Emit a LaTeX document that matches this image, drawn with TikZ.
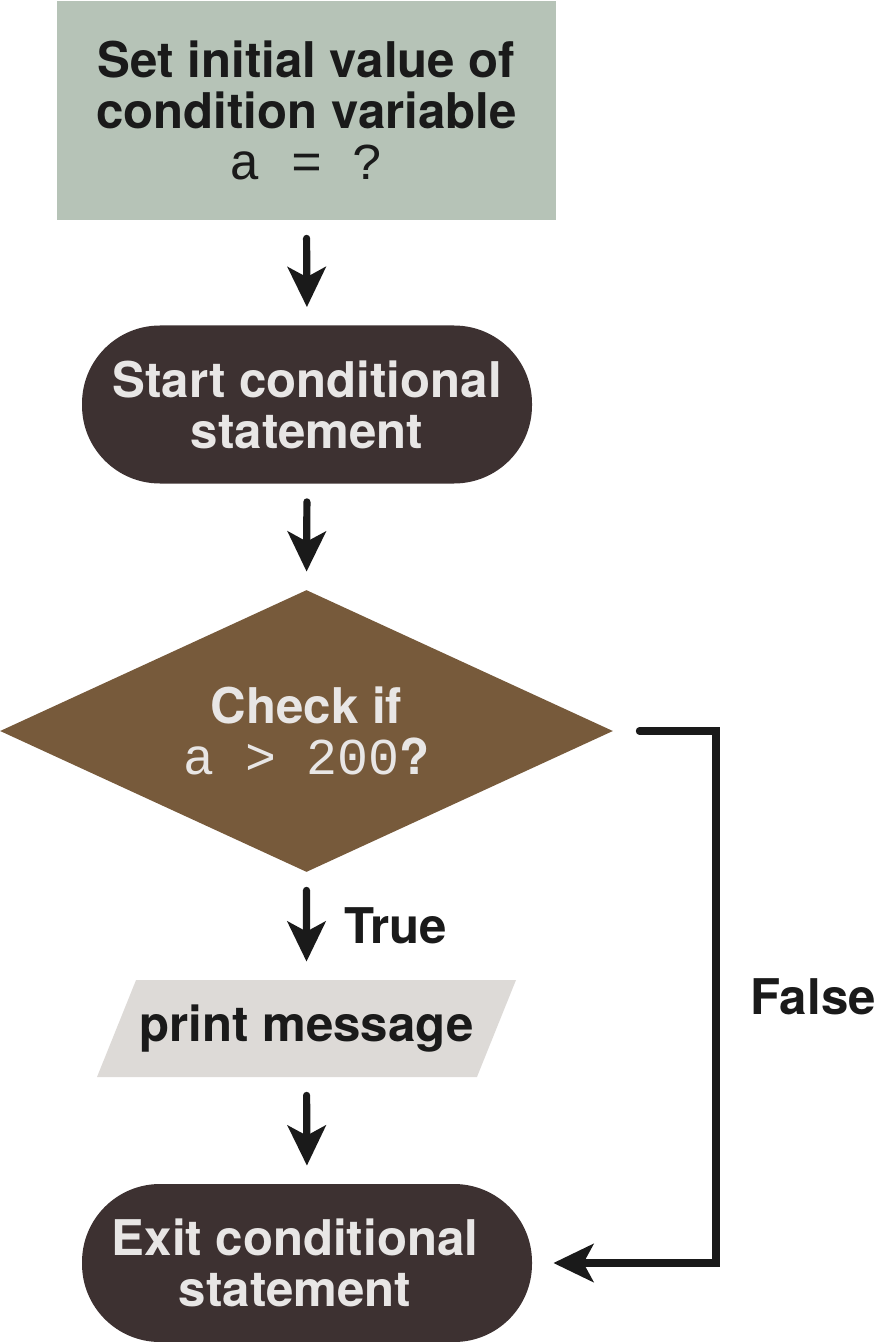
\documentclass[tikz,border=0pt]{standalone}
\usepackage{fontspec}
\setmainfont{TeX Gyre Heros}
\newfontfamily\codefont{Liberation Mono}
\usetikzlibrary{arrows.meta,shapes.geometric}

\definecolor{initgreen}{HTML}{B6C3B7}
\definecolor{termbrown}{HTML}{3D3131}
\definecolor{decbrown}{HTML}{775A3B}
\definecolor{iogrey}{HTML}{DDDAD7}
\definecolor{lighttext}{HTML}{E8E6E5}
\definecolor{inkblack}{HTML}{1A1A1A}

\newcommand\codetxt[1]{{\codefont\mdseries\fontsize{25.8}{25.5}\selectfont #1}}

\begin{document}
\begin{tikzpicture}[x=0.5pt,y=-0.5pt,color=inkblack,
    font=\fontsize{24.6}{25.5}\selectfont\bfseries,
    initbox/.style={rectangle,fill=initgreen,text=inkblack,minimum width=249.5pt,minimum height=109.5pt,align=center,inner sep=0pt},
    termbox/.style={rectangle,rounded corners=39pt,fill=termbrown,text=lighttext,minimum width=225pt,minimum height=79pt,align=center,inner sep=0pt},
    decbox/.style={diamond,shape aspect=2.17,fill=decbrown,text=lighttext,minimum width=306.5pt,minimum height=141pt,align=center,inner sep=0pt},
    iobox/.style={trapezium,trapezium left angle=50.5,trapezium right angle=129.5,trapezium stretches body,fill=iogrey,text=inkblack,minimum width=209.5pt,minimum height=48.5pt,inner sep=0pt},
    flow/.style={draw=inkblack,line width=3.6pt,line cap=round,shorten <=9pt,shorten >=9pt,-{Stealth[length=20pt,width=19pt,inset=5pt]}}]

      \useasboundingbox (0,0) rectangle (875,1342);

      \node[initbox] (init)  at (306.5,110.5) {Set initial value of\\condition variable\\\codetxt{a = ?}};
      \node[termbox] (start) at (307,404.5)   {Start conditional\\statement};
      \node[decbox]  (check) at (306.5,731)   {Check if\\\codetxt{a > 200}?};
      \node[iobox]   (print) at (306.5,1028.5) {print message};
      \node[termbox] (exit)  at (307,1263)    {Exit conditional\hspace*{12pt}\\statement\hspace*{12pt}};

      \coordinate (falsebend) at (716,731);

      \begin{scope}[every edge/.style={flow}]
        \path (init.south)  edge (start.north);
        \path (start.south) edge (check.north);
        \path (check.south) edge node[anchor=west,inner sep=0pt,xshift=17pt] {True} (print.north);
        \path (print.south) edge (exit.north);
      \end{scope}

      \draw[flow,shorten <=13pt,shorten >=10.5pt] (check.east) -- (falsebend)
        |- node[pos=0.25,anchor=west,inner sep=0pt,xshift=15.5pt] {False} (exit.east);

    \end{tikzpicture}
\end{document}
